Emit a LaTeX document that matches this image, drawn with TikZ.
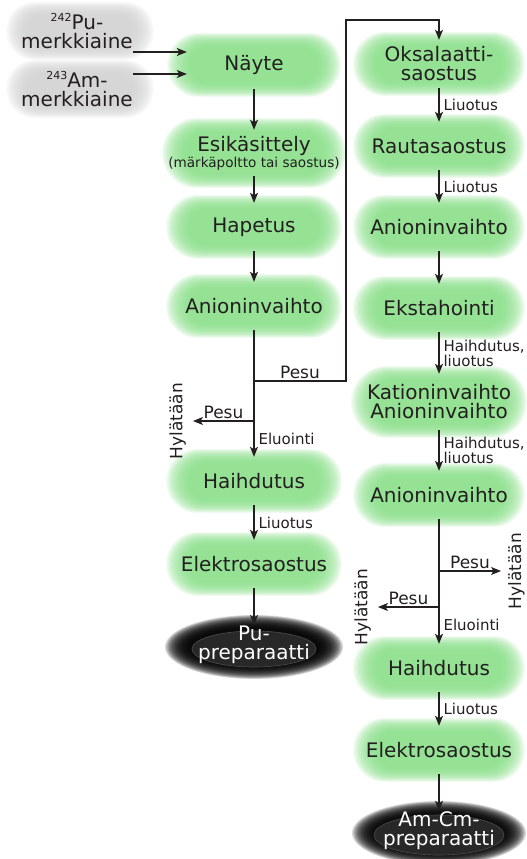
\documentclass[tikz,border=0pt]{standalone}
\usepackage{fontspec}
\setmainfont{DejaVu Sans}
\usetikzlibrary{arrows.meta,positioning,backgrounds,shapes.geometric}
\definecolor{ink}{RGB}{35,31,32}
\definecolor{glowgreen}{RGB}{135,222,135}
\definecolor{glowgray}{RGB}{208,208,208}
\definecolor{prepcore}{RGB}{40,40,40}

\begin{document}
\begin{tikzpicture}[
  x=1pt, y=-1pt,
  proc/.style={text=ink,font=\fontsize{20}{19}\selectfont,align=center,
               inner sep=0pt,minimum width=134pt,minimum height=48pt},
  tracer/.style={text=ink,font=\fontsize{20}{19}\selectfont,align=center,inner sep=0pt},
  prep/.style={text=white,font=\fontsize{20}{19}\selectfont,align=center,inner sep=1pt},
  lbl/.style={text=ink,font=\fontsize{15}{15}\selectfont,align=left,inner sep=4pt},
  wash/.style={text=ink,font=\fontsize{17}{17}\selectfont,inner sep=2pt},
  hyl/.style={text=ink,font=\fontsize{17}{17}\selectfont,rotate=90,inner sep=7pt},
  glowlayer/.style={draw=none,inner sep=0pt,fill opacity=.1},
  darklayer/.style={ellipse,draw=none,inner sep=0pt,fill=black,fill opacity=.15},
  arr/.style={draw=ink,line width=1.1pt,-{Stealth[length=10pt,width=8pt,inset=2.5pt]}},
  line/.style={draw=ink,line width=1.1pt}
]
\useasboundingbox (0,0) rectangle (527,859);

% tracers
\node[tracer] (inpu) at (77,31) {\raisebox{8pt}{\fontsize{11}{11}\selectfont 242}Pu-\\merkkiaine};
\node[tracer] (inam) at (77,89) {\raisebox{8pt}{\fontsize{11}{11}\selectfont 243}Am-\\merkkiaine};

% Pu line
\node[proc] (naete) at (254,65) {Näyte};
\node[proc,minimum height=46pt] (esik) at (254,153)
  {Esikäsittely\\[-3pt]{\fontsize{13.6}{15}\selectfont(märkäpoltto tai saostus)}};
\node[proc] (hap) at (254,227) {Hapetus};
\node[proc] (anion1) at (254,306) {Anioninvaihto};
\node[proc] (haih1) at (254,481) {Haihdutus};
\node[proc] (elek1) at (254,564) {Elektrosaostus};
\node[prep] (pu) at (254,645) {Pu-\\preparaatti};

% Am-Cm line
\node[proc] (oks) at (439,64) {Oksalaatti-\\saostus};
\node[proc] (raut) at (439,146) {Rautasaostus};
\node[proc] (anion2) at (439,227) {Anioninvaihto};
\node[proc] (ekst) at (439,308) {Ekstahointi};
\node[proc,minimum height=56pt] (kat) at (439,402) {Kationinvaihto\\Anioninvaihto};
\node[proc] (anion3) at (439,495) {Anioninvaihto};
\node[proc] (haih2) at (439,668) {Haihdutus};
\node[proc] (elek2) at (439,750) {Elektrosaostus};
\node[prep] (amcm) at (439,831) {Am-Cm-\\preparaatti};

% branch points
\coordinate (in1) at ([yshift=13pt]naete.west);
\coordinate (in2) at ([yshift=-9pt]naete.west);
\coordinate (b1) at (254,381);
\coordinate (b2) at (254,421);
\coordinate (top) at (346,20);
\coordinate (b3) at (439,571);
\coordinate (b4) at (439,607);

\node[hyl,anchor=south] (hyl1) at (193,421) {Hylätään};
\node[hyl,anchor=north] (hyl2) at (501,571) {Hylätään};
\node[hyl,anchor=south] (hyl3) at (378,607) {Hylätään};

\draw[arr] (in1 -| inpu.east) -- (in1);
\draw[arr] (in2 -| inam.east) -- (in2);

\draw[arr] (naete) -- (esik);
\draw[arr] (esik) -- (hap);
\draw[arr] (hap) -- (anion1);
\draw[line] (anion1) -- (b2);
\draw[arr] (b2) -- node[lbl,right] {Eluointi} (haih1);
\draw[arr] (haih1) -- node[lbl,right] {Liuotus} (elek1);
\draw[arr] (elek1) -- (pu);
\draw[arr] (b1) -- node[wash,above] {Pesu} (b1 -| top) -- (top) -| (oks);
\draw[arr] (b2) -- node[wash,above] {Pesu} (hyl1);

\draw[arr] (oks) -- node[lbl,right] {Liuotus} (raut);
\draw[arr] (raut) -- node[lbl,right] {Liuotus} (anion2);
\draw[arr] (anion2) -- (ekst);
\draw[arr] (ekst) -- node[lbl,right] {Haihdutus,\\liuotus} (kat);
\draw[arr] (kat) -- node[lbl,right] {Haihdutus,\\liuotus} (anion3);
\draw[line] (anion3) -- (b4);
\draw[arr] (b3) -- node[wash,above] {Pesu} (hyl2);
\draw[arr] (b4) -- node[wash,above] {Pesu} (hyl3);
\draw[arr] (b4) -- node[lbl,right] {Eluointi} (haih2);
\draw[arr] (haih2) -- node[lbl,right] {Liuotus} (elek2);
\draw[arr] (elek2) -- (amcm);

% soft glows behind the steps
\begin{scope}[on background layer]
\foreach \n/\w/\h in {naete/174/64,esik/184/70,hap/176/64,anion1/176/64,
    haih1/176/64,elek1/176/64,oks/172/64,raut/172/64,anion2/172/64,
    ekst/172/64,kat/176/72,anion3/172/64,haih2/172/64,elek2/172/64}
  \foreach \k in {0,...,19}
    \node[glowlayer,fill=glowgreen,minimum width={\w-2.4*\k},
          minimum height={\h-1.4*\k},rounded corners={(\h-1.4*\k)/2-0.5}] at (\n) {};
\foreach \n in {inpu,inam}
  \foreach \k in {0,...,19}
    \node[glowlayer,fill=glowgray,minimum width={148-2.4*\k},
          minimum height={58-1.4*\k},rounded corners={(58-1.4*\k)/2-0.5}] at ([xshift=3pt]\n) {};
\foreach \n/\w/\h in {pu/178/64,amcm/174/64}
  \foreach \k in {0,...,19}
    \node[darklayer,minimum width={\w-2.4*\k},minimum height={\h-1.4*\k}] at ([yshift=-2pt]\n) {};
\foreach \n/\w/\h in {pu/124/36,amcm/130/40}
  \node[ellipse,fill=prepcore,draw=black!70,line width=.6pt,inner sep=0pt,
        minimum width=\w,minimum height=\h] at ([yshift=-4pt]\n) {};
\end{scope}
\end{tikzpicture}
\end{document}
